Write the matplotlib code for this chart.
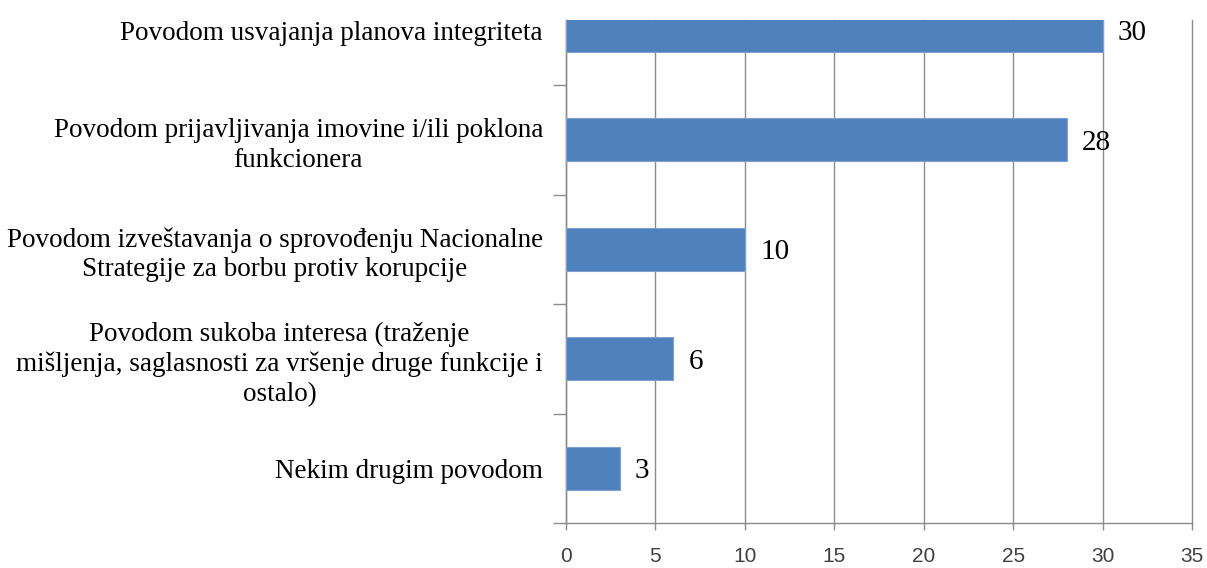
import matplotlib
import matplotlib.pyplot as plt
import numpy as np

matplotlib.rcParams['font.family'] = ['Liberation Serif', 'DejaVu Serif']

# categories, top to bottom
categories = [
    "Povodom usvajanja planova integriteta",
    "Povodom prijavljivanja imovine i/ili poklona\nfunkcionera",
    "Povodom izveštavanja o sprovođenju Nacionalne\nStrategije za borbu protiv korupcije",
    "Povodom sukoba interesa (traženje\nmišljenja, saglasnosti za vršenje druge funkcije i\nostalo)",
    "Nekim drugim povodom",
]
values = [30, 28, 10, 6, 3]
xticks = [0, 5, 10, 15, 20, 25, 30, 35]

W, H = 1207, 568
fig = plt.figure(figsize=(W / 100, H / 100), dpi=100)
ax = fig.add_axes([566 / W, 1 - 523 / H, (1192 - 566) / W, (523 - 20) / H])

pos = np.arange(len(categories))
ax.barh(pos, values, height=0.39, color='#4F81BD', edgecolor='#7DA1D0',
        linewidth=0.8, zorder=3)

for p, v in zip(pos, values):
    ax.text(v + 0.85, p, str(v), va='center_baseline', ha='left',
            fontsize=21, color='black', zorder=4)

ax.set_xlim(0, 35)
ax.set_ylim(4.5, -0.094)
ax.set_xticks(xticks)
ax.set_xticklabels([str(t) for t in xticks], fontsize=15,
                   family='Liberation Sans', color='#404040')
ax.xaxis.grid(True, color='#8c8c8c', linewidth=1.0, zorder=0)
for gl in ax.get_xgridlines():
    gl.set_clip_on(False)

ax.set_yticks(pos)
ax.set_yticklabels(categories, fontsize=19.5, multialignment='center',
                   linespacing=1.25)
ax.set_yticks(np.arange(0.5, len(categories), 1.0), minor=True)

ax.tick_params(axis='y', which='major', length=0, pad=23 * 0.72)
ax.tick_params(axis='y', which='minor', length=13 * 0.72, width=1.0,
               color='#8c8c8c', direction='out')
ax.tick_params(axis='x', which='major', length=7 * 0.72, width=1.0,
               color='#8c8c8c', direction='out', pad=12.5)

for s in ['top', 'right']:
    ax.spines[s].set_visible(False)
for s in ['left', 'bottom']:
    ax.spines[s].set_color('#8c8c8c')
    ax.spines[s].set_linewidth(1.0)

fig.savefig('out.png', dpi=100)
